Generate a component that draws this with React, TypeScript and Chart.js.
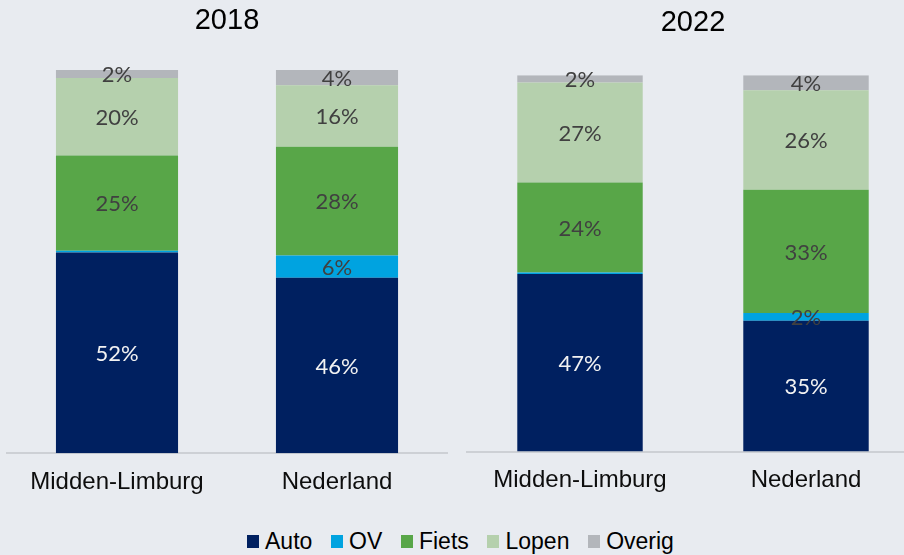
import React, { useEffect, useRef } from "react";
import { Chart, registerables } from "chart.js";
Chart.register(...registerables);

const categories = ["Midden-Limburg", "Nederland"];
const seriesNames = ["Auto", "OV", "Fiets", "Lopen", "Overig"];
const seriesColors = ["#002060", "#00a3e0", "#58a648", "#b5d0ad", "#b3b6bb"];

// 2018 values (%) per series: [Midden-Limburg, Nederland]
const auto2018 = [52.4, 45.8];
const ov2018 = [0.4, 5.8];
const fiets2018 = [24.9, 28.4];
const lopen2018 = [20.2, 16.0];
const overig2018 = [2.1, 4.0];

// 2022 values (%) per series: [Midden-Limburg, Nederland]
const auto2022 = [47.2, 34.8];
const ov2022 = [0.4, 2.0];
const fiets2022 = [23.9, 32.8];
const lopen2022 = [26.6, 26.4];
const overig2022 = [1.9, 4.0];

const BG = "#e8ebf0";

const segLabels = {
  id: "segLabels",
  afterDatasetsDraw(chart: any) {
    const ctx = chart.ctx;
    chart.data.datasets.forEach((ds: any, i: number) => {
      const meta = chart.getDatasetMeta(i);
      meta.data.forEach((bar: any, j: number) => {
        const v = ds.data[j];
        if (v < 1) return;
        const p = bar.getProps(["x", "y", "base"], true);
        ctx.save();
        ctx.font = "22px Lato";
        ctx.fillStyle = i === 0 ? "#f2f2f2" : "#404040";
        ctx.textAlign = "center";
        ctx.textBaseline = "middle";
        ctx.fillText(Math.round(v) + "%", p.x, (p.y + p.base) / 2 + 1);
        ctx.restore();
      });
    });
  },
};

type PanelProps = {
  title: string;
  values: number[][];
  left: number;
  width: number;
  height: number;
  padLeft: number;
  padRight: number;
  titleTop: number;
  titleBottom: number;
  tickPad: number;
};

function Panel(props: PanelProps) {
  const ref = useRef<HTMLCanvasElement | null>(null);
  useEffect(() => {
    if (!ref.current) return;
    const chart = new Chart(ref.current, {
      type: "bar",
      data: {
        labels: categories,
        datasets: seriesNames.map((n, i) => ({
          label: n,
          data: props.values[i],
          backgroundColor: seriesColors[i],
          borderWidth: 0,
          barPercentage: 0.555,
          categoryPercentage: 1,
        })),
      },
      options: {
        animation: false,
        responsive: false,
        maintainAspectRatio: false,
        layout: { padding: { left: props.padLeft, right: props.padRight, top: 0, bottom: 0 } },
        plugins: {
          legend: { display: false },
          tooltip: { enabled: false },
          title: {
            display: true,
            text: props.title,
            color: "#000000",
            font: { family: "'Liberation Sans', Arial", size: 29, weight: "normal" },
            padding: { top: props.titleTop, bottom: props.titleBottom },
          },
        },
        scales: {
          x: {
            stacked: true,
            grid: { display: false, drawTicks: false },
            border: { display: true, color: "#cdd0d5", width: 2 },
            ticks: {
              color: "#0d0d0d",
              font: { family: "'Liberation Sans', Arial", size: 24 },
              padding: props.tickPad,
            },
          },
          y: { stacked: true, display: false, min: 0, max: 100 },
        },
      } as any,
      plugins: [segLabels],
    });
    return () => chart.destroy();
  }, []);
  return (
    <canvas
      ref={ref}
      width={props.width}
      height={props.height}
      style={{ position: "absolute", left: props.left, top: 0, width: props.width, height: props.height }}
    />
  );
}

export default function App() {
  const v2018 = [auto2018, ov2018, fiets2018, lopen2018, overig2018];
  const v2022 = [auto2022, ov2022, fiets2022, lopen2022, overig2022];
  return (
    <div
      style={{
        position: "absolute",
        left: 0,
        top: 0,
        width: 904,
        height: 555,
        overflow: "hidden",
        background: BG,
      }}
    >
      <Panel title="2018" values={v2018} left={0} width={452} height={512} padLeft={7} padRight={5} titleTop={3.6} titleBottom={31.6} tickPad={15} />
      <Panel title="2022" values={v2022} left={452} width={489} height={509} padLeft={15} padRight={22} titleTop={5.6} titleBottom={34.9} tickPad={14.3} />
      <div
        style={{
          position: "absolute",
          left: 247,
          top: 526,
          height: 30,
          display: "flex",
          alignItems: "center",
          fontFamily: "'Liberation Sans', Arial",
          fontSize: 23,
          color: "#000",
          whiteSpace: "nowrap",
        }}
      >
        {seriesNames.map((n, i) => (
          <div key={n} style={{ display: "flex", alignItems: "center", marginRight: 18.7 }}>
            <span style={{ display: "inline-block", width: 12, height: 13, background: seriesColors[i], marginRight: 6 }} />
            <span style={{ lineHeight: "30px" }}>{n}</span>
          </div>
        ))}
      </div>
    </div>
  );
}
